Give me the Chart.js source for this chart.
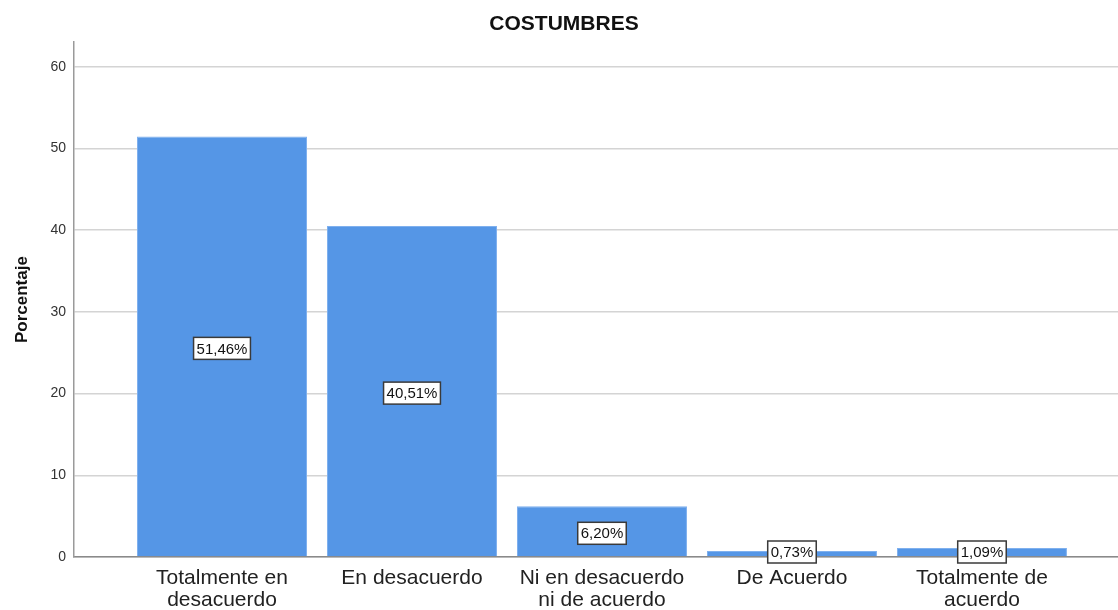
<!DOCTYPE html>
<html>
<head>
<meta charset="utf-8">
<script src="https://cdn.jsdelivr.net/npm/chart.js@4"></script>
<style>
  body { margin: 0; background: #fff; }
  #wrap { width: 1118px; height: 610px; position: relative; }
</style>
</head>
<body>
<div id="wrap"><canvas id="costumbresChart"></canvas></div>
<script>
const categories = [
  ['Totalmente en', 'desacuerdo'],
  'En desacuerdo',
  ['Ni en desacuerdo', 'ni de acuerdo'],
  'De Acuerdo',
  ['Totalmente de', 'acuerdo']
]
const percentages = [51.46, 40.51, 6.20, 0.73, 1.09]
const valueLabels = ['51,46%', '40,51%', '6,20%', '0,73%', '1,09%']
const yTicks = [0, 10, 20, 30, 40, 50, 60]

const FONT = "'Liberation Sans', Arial, sans-serif"

// boxed percentage labels in the middle of each bar
const boxLabels = {
  id: 'boxLabels',
  afterDatasetsDraw(chart) {
    const ctx = chart.ctx
    const meta = chart.getDatasetMeta(0)
    const bottom = chart.chartArea.bottom
    ctx.save()
    ctx.font = `15px ${FONT}`
    ctx.textAlign = 'center'
    ctx.textBaseline = 'middle'
    meta.data.forEach((bar, i) => {
      const text = valueLabels[i]
      const cy = Math.min((bar.y + bar.base) / 2 + 2, bottom - 5)
      const w = ctx.measureText(text).width + 6
      const h = 22
      ctx.fillStyle = '#fff'
      ctx.fillRect(bar.x - w / 2, cy - h / 2, w, h)
      ctx.lineWidth = 1.5
      ctx.strokeStyle = '#3a3a3a'
      ctx.strokeRect(bar.x - w / 2, cy - h / 2, w, h)
      ctx.fillStyle = '#111'
      ctx.fillText(text, bar.x, cy + 1)
    })
    ctx.restore()
  }
}

new Chart(document.getElementById('costumbresChart'), {
  type: 'bar',
  data: {
    datasets: [{
      data: percentages.map((v, i) => ({ x: i, y: v })),
      backgroundColor: '#5596e6',
      borderColor: '#7fb0ee',
      borderWidth: 1,
      barPercentage: 170 / 190,
      categoryPercentage: 1
    }]
  },
  options: {
    responsive: true,
    maintainAspectRatio: false,
    animation: false,
    layout: { padding: { left: 10, right: 0, top: 0, bottom: 0 } },
    plugins: {
      legend: { display: false },
      tooltip: { enabled: false },
      title: {
        display: true,
        text: 'COSTUMBRES',
        color: '#111',
        font: { family: FONT, size: 21, weight: 'bold' },
        padding: { top: 12, bottom: 5 }
      }
    },
    scales: {
      x: {
        type: 'linear',
        offset: false,
        min: -0.779,
        max: 4.716,
        afterBuildTicks: (scale) => {
          scale.ticks = categories.map((_, i) => ({ value: i }))
        },
        afterFit: (scale) => { scale.height = 53 },
        grid: { display: false, drawTicks: false, offset: false },
        border: { display: true, color: '#8a8a8a', width: 1.5 },
        ticks: {
          autoSkip: false,
          maxRotation: 0,
          padding: 10,
          color: '#222',
          font: { family: FONT, size: 21, lineHeight: 1.05 },
          callback: (v) => categories[v]
        }
      },
      y: {
        min: 0,
        max: 63,
        afterBuildTicks: (scale) => {
          scale.ticks = yTicks.map(v => ({ value: v }))
        },
        afterFit: (scale) => { scale.width = 64 },
        grid: { color: '#d4d4d4', lineWidth: 1.5, drawTicks: false },
        border: { display: true, color: '#9a9a9a', width: 1.5 },
        ticks: {
          padding: 8,
          color: '#333',
          font: { family: FONT, size: 14 }
        },
        title: {
          display: true,
          text: 'Porcentaje',
          color: '#111',
          font: { family: FONT, size: 17, weight: 'bold' },
          padding: { top: 2, bottom: 0 }
        }
      }
    }
  },
  plugins: [boxLabels]
})
</script>
</body>
</html>
